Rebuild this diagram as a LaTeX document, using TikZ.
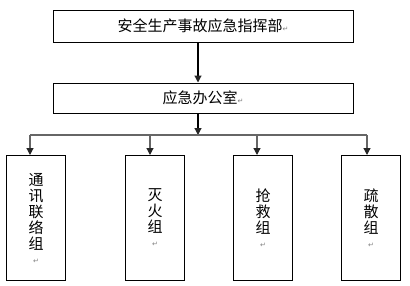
\documentclass[tikz,border=0pt]{standalone}
\usepackage{fontspec}
\newfontfamily\cjk{Noto Sans CJK SC}
\newfontfamily\symfont{DejaVu Sans}
\newcommand{\parmark}{\textcolor{gray}{\symfont\fontsize{7}{8}\selectfont ↵}}
\usetikzlibrary{arrows.meta}

\begin{document}
\begin{tikzpicture}[x=1pt, y=-1pt,
    box/.style={draw, line width=1pt, inner sep=0pt, font=\cjk\fontsize{15}{16}\selectfont},
    groupbox/.style={box, minimum width=59pt, minimum height=125pt, align=center},
    link/.style={line width=1.2pt, -{Triangle[length=7pt, width=7pt, color=black!85]}}]

    \useasboundingbox (0,0) rectangle (410,285);

    % Command and office
    \node[box, minimum width=300pt, minimum height=32pt] (hq) at (203,26)
        {安全生产事故应急指挥部\parmark};

    \node[box, minimum width=300pt, minimum height=30pt] (office) at (203,98)
        {应急办公室\parmark};

    \draw[link] (hq.south -| 198,0) -- (office.north -| 198,0);

    % Groups
    \node[groupbox, anchor=north west] (comm) at (6,155)
        {通\\讯\\联\\络\\组\\[-2pt]\parmark};
    \node[groupbox, anchor=north west] (fire) at (125,155)
        {灭\\火\\组\\[-2pt]\parmark};
    \node[groupbox, anchor=north west] (rescue) at (233,155)
        {抢\\救\\组\\[-2pt]\parmark};
    \node[groupbox, anchor=north west] (evac) at (341,155)
        {疏\\散\\组\\[-2pt]\parmark};

    % Bus
    \coordinate (busL) at (30,135);
    \coordinate (busR) at (367,135);
    \draw[link] (office.south -| 198,0) -- (198,135);
    \draw[line width=1.2pt, gray!80!black] (busL) -- (busR);

    \draw[link, gray!80!black] (busL) -- (comm.north -| busL);
    \draw[link, gray!80!black] (150,135) -- (fire.north -| 150,0);
    \draw[link, gray!80!black] (257,135) -- (rescue.north -| 257,0);
    \draw[link, gray!80!black] (busR) -- (evac.north -| busR);

\end{tikzpicture}
\end{document}
